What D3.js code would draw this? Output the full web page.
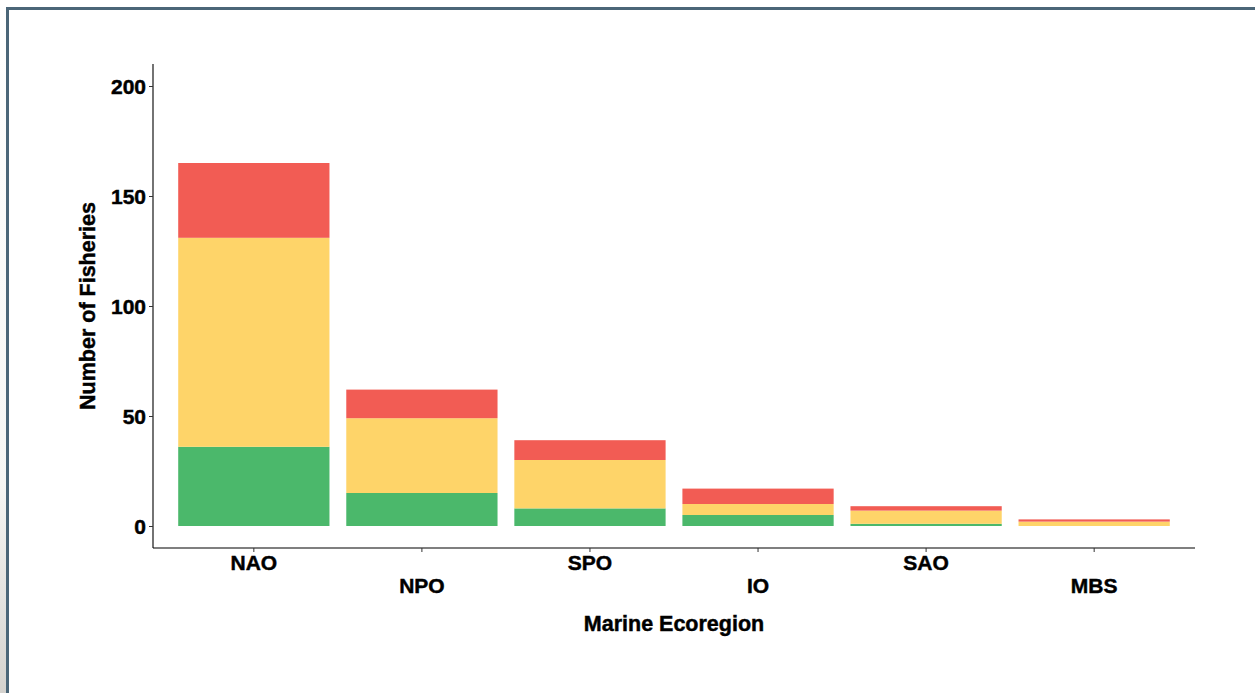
<!DOCTYPE html>
<html>
<head>
<meta charset="utf-8">
<script src="https://cdn.jsdelivr.net/npm/d3@7"></script>
<style>
  html, body { margin: 0; padding: 0; background: #fff; }
  svg { display: block; }
  text { font-family: "Liberation Sans", Arial, Helvetica, sans-serif; font-weight: bold; fill: #000; stroke: #000; stroke-width: 0.45px; }
</style>
</head>
<body>
<svg id="chart" width="1255" height="693"></svg>
<script>
const categories = ["NAO", "NPO", "SPO", "IO", "SAO", "MBS"];
const seriesNames = ["green", "yellow", "red"];
const greenValues  = [36, 15, 8, 5, 1, 0];
const yellowValues = [95, 34, 22, 5, 6, 2];
const redValues    = [34, 13, 9, 7, 2, 1];
const yTicks = [0, 50, 100, 150, 200];
const colors = { green: "#4bb86b", yellow: "#fed469", red: "#f25c54" };

const svg = d3.select("#chart");

// page frame
const defs = svg.append("defs");
const grad = defs.append("linearGradient").attr("id", "lg").attr("x1", 0).attr("y1", 0).attr("x2", 0).attr("y2", 1);
grad.append("stop").attr("offset", "0%").attr("stop-color", "#ffffff");
grad.append("stop").attr("offset", "70%").attr("stop-color", "#f6f6f4");
grad.append("stop").attr("offset", "100%").attr("stop-color", "#d4d2ce");
svg.append("rect").attr("x", 0).attr("y", 0).attr("width", 6).attr("height", 693).attr("fill", "url(#lg)");
svg.append("rect").attr("x", 6).attr("y", 7).attr("width", 1249).attr("height", 3).attr("fill", "#4b6678");
svg.append("rect").attr("x", 6).attr("y", 7).attr("width", 3).attr("height", 686).attr("fill", "#4b6678");

const pLeft = 153, pRight = 1195, pTop = 64, pBottom = 548;

const x = d3.scaleBand().domain(categories).range([pLeft, pRight]).paddingInner(0.1).paddingOuter(0.15);
const y = d3.scaleLinear().domain([-10, 210]).range([pBottom, pTop]);

const table = categories.map((c, i) => ({ cat: c, green: greenValues[i], yellow: yellowValues[i], red: redValues[i] }));
const stacked = d3.stack().keys(seriesNames)(table);

svg.append("g").selectAll("g").data(stacked).join("g")
  .attr("fill", d => colors[d.key])
  .selectAll("rect").data(d => d).join("rect")
  .attr("x", d => x(d.data.cat))
  .attr("width", x.bandwidth())
  .attr("y", d => y(d[1]))
  .attr("height", d => Math.max(0, y(d[0]) - y(d[1])));

// y axis
const yAxis = svg.append("g").attr("transform", `translate(${pLeft},0)`)
  .call(d3.axisLeft(y).tickValues(yTicks).tickSize(4).tickPadding(3));
yAxis.select(".domain").attr("stroke", "#000").attr("stroke-width", 1.1).attr("d", `M0,${pTop}V${pBottom}`);
yAxis.selectAll(".tick line").attr("stroke", "#333");
yAxis.selectAll(".tick text").style("font-size", "21px").attr("dy", "0.36em");

// x axis
const xAxis = svg.append("g").attr("transform", `translate(0,${pBottom})`)
  .call(d3.axisBottom(x).tickSize(4).tickPadding(3));
xAxis.select(".domain").attr("stroke", "#000").attr("stroke-width", 1.1).attr("d", `M${pLeft},0H${pRight}`);
xAxis.selectAll(".tick line").attr("stroke", "#333");
xAxis.selectAll(".tick text")
  .style("font-size", "21px")
  .attr("dy", null)
  .attr("y", (d, i) => i % 2 === 0 ? 22 : 45);

// titles
svg.append("text").attr("x", (pLeft + pRight) / 2).attr("y", 631)
  .attr("text-anchor", "middle").style("font-size", "21.5px").text("Marine Ecoregion");
svg.append("text").attr("transform", `translate(95,${(pTop + pBottom) / 2}) rotate(-90)`)
  .attr("text-anchor", "middle").style("font-size", "21.5px").text("Number of Fisheries");
</script>
</body>
</html>
